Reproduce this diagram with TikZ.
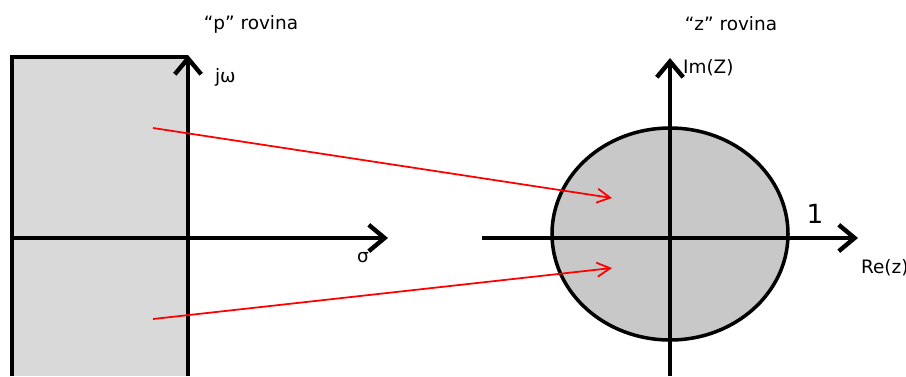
\documentclass[tikz,border=0pt]{standalone}
\usepackage{fontspec}
\setmainfont{DejaVu Sans}
\usetikzlibrary{arrows.meta}

\definecolor{pfill}{HTML}{D9D9D9}
\definecolor{zfill}{HTML}{C8C8C8}

\begin{document}
\begin{tikzpicture}[
    x=0.02cm, y=-0.02cm,
    axis/.style={line width=2.5pt, -{Straight Barb[length=9pt, width=15pt, line width=2.5pt]}},
    region/.style={line width=2pt},
    map/.style={red, line width=1pt, -{Straight Barb[length=7.5pt, width=8pt, line width=1pt]}},
    lbl/.style={font=\fontsize{10.5}{12}\selectfont, inner sep=1pt}
]
    \useasboundingbox (0,0) rectangle (906,376);

    % Origins of both planes
    \coordinate (pO) at (188,238);
    \coordinate (zO) at (670,234);

    % "p" plane: left half-plane
    \fill[pfill] (12,57) rectangle (188,376);
    \draw[region] (12,376) -- (12,57) -- (188,57);
    \draw[axis] (12,238) -- (388,238) coordinate (pRe);
    \draw[axis] (188,376) -- (188,55) coordinate (pIm);

    % "z" plane: unit circle
    \draw[region, fill=zfill] (zO) ellipse [x radius=118, y radius=106];
    \draw[axis] (482,238) -- (858,238) coordinate (zRe);
    \draw[axis] (670,376) -- (670,58) coordinate (zIm);

    % Labels
    \node[lbl] (ptitle) at (251,24) {“p” rovina};
    \node[lbl, anchor=west] (jw) at (213,77) {jω};
    \node[lbl] (sigma) at (363,258) {σ};
    \node[lbl] (ztitle) at (731,24) {“z” rovina};
    \node[lbl, anchor=west] (imz) at (681,68) {Im(Z)};
    \node[lbl, anchor=west] (rez) at (859,268) {Re(z)};
    \node[font=\fontsize{15}{17}\selectfont, inner sep=1pt] (one) at (815,214) {1};

    % Mapping arrows
    \coordinate (pUp) at (153,128);
    \coordinate (pDn) at (153,319);
    \coordinate (zUp) at (612,198);
    \coordinate (zDn) at (612,268);
    \draw[map] (pUp) -- (zUp);
    \draw[map] (pDn) -- (zDn);
\end{tikzpicture}
\end{document}
